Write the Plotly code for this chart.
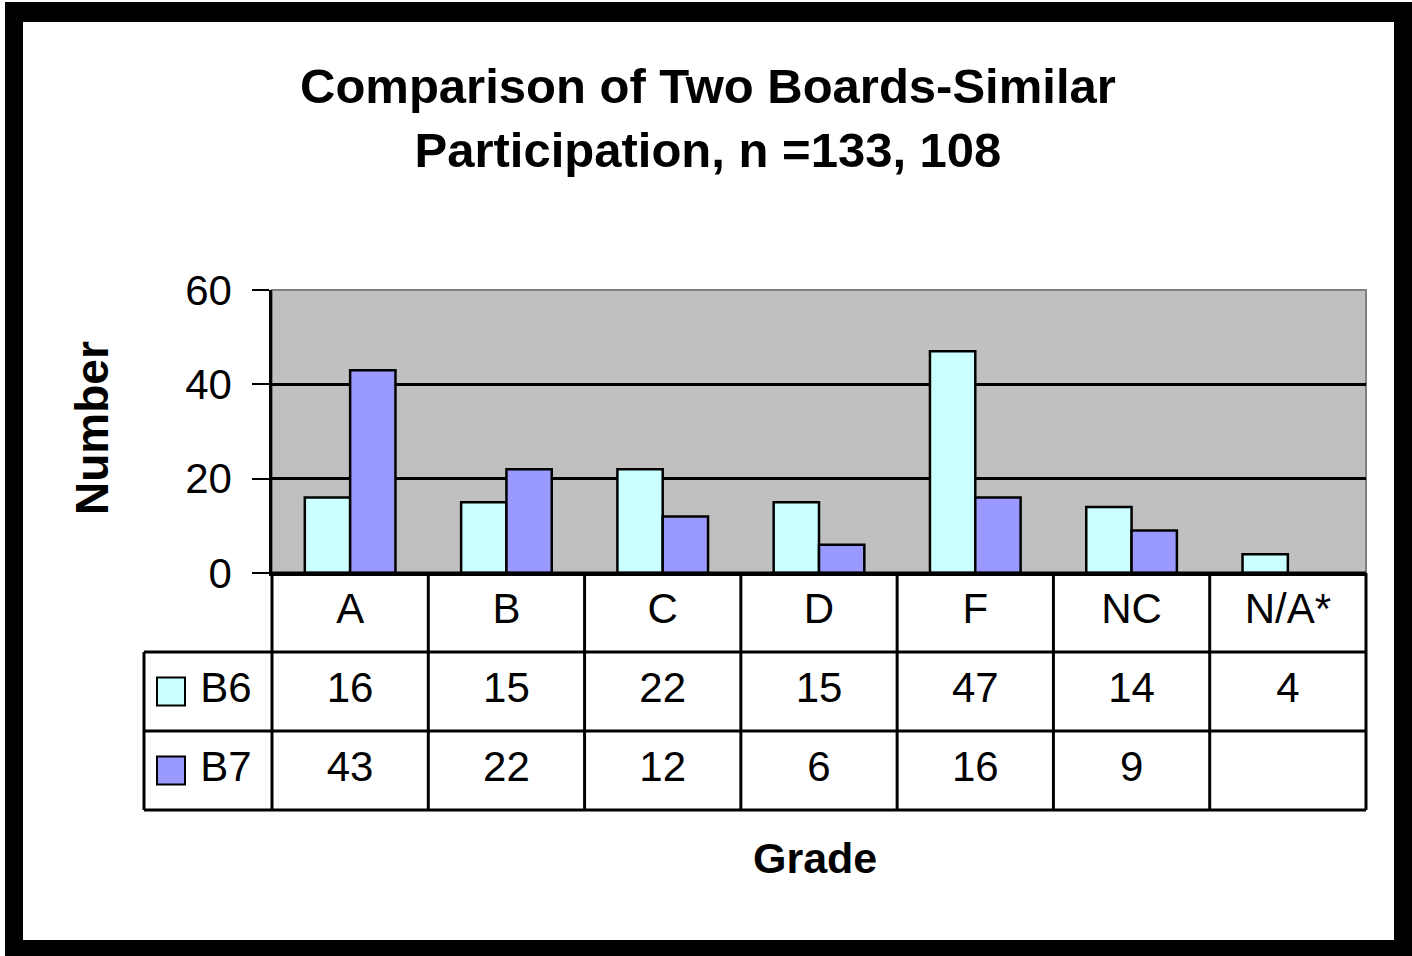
import plotly.graph_objects as go

# ---- data ----
grades = ["A", "B", "C", "D", "F", "NC", "N/A*"]
b6 = [16, 15, 22, 15, 47, 14, 4]
b7 = [43, 22, 12, 6, 16, 9, None]
series_names = ["B6", "B7"]
series_colors = ["#CCFFFF", "#9999FF"]
y_ticks = [0, 20, 40, 60]

W, H = 1412, 956
def fx(p):
    return p / W
def fy(p):
    return 1 - p / H

# layout geometry (pixels)
PL, PR, PT, PB = 272, 1366, 290, 573    # bar plot area
TL, TB = 144, 810                       # table left / bottom
PAD = 4
ncat = len(grades)
xunit = (PR - PL) / ncat
yunit = (TB - PB) / 3.0
tab_left = -0.5 - (PL - TL) / xunit

SANS = "Liberation Sans, Arial, sans-serif"
TXT = 42

fig = go.Figure()

# bars
for name, vals, col in zip(series_names, [b6, b7], series_colors):
    fig.add_trace(go.Bar(
        x=grades, y=vals, name=name, marker=dict(color=col, line=dict(color="black", width=2.5)),
        xaxis="x", yaxis="y", showlegend=False))

# table text
xi = list(range(ncat))
fig.add_trace(go.Scatter(x=xi, y=[2.5] * ncat, text=grades, mode="text",
                         textfont=dict(family=SANS, size=TXT, color="black"),
                         xaxis="x2", yaxis="y2", showlegend=False, hoverinfo="skip"))
for row_y, vals in [(1.5, b6), (0.5, b7)]:
    fig.add_trace(go.Scatter(x=xi, y=[row_y] * ncat,
                             text=["" if v is None else str(v) for v in vals], mode="text",
                             textfont=dict(family=SANS, size=TXT, color="black"),
                             xaxis="x2", yaxis="y2", showlegend=False, hoverinfo="skip"))

# legend keys in table
key_x = -0.5 - 101 / xunit
lab_x = -0.5 - 46 / xunit
fig.add_trace(go.Scatter(x=[key_x, key_x], y=[1.5, 0.5], mode="markers",
                         marker=dict(symbol="square", size=28, color=series_colors,
                                     line=dict(color="black", width=2)),
                         xaxis="x2", yaxis="y2", showlegend=False, hoverinfo="skip"))
fig.add_trace(go.Scatter(x=[lab_x, lab_x], y=[1.5, 0.5], text=series_names, mode="text",
                         textfont=dict(family=SANS, size=TXT, color="black"),
                         xaxis="x2", yaxis="y2", showlegend=False, hoverinfo="skip"))

shapes = []
# outer black frame and white inner page
shapes.append(dict(type="rect", xref="paper", yref="paper", x0=fx(5), x1=fx(1412), y0=fy(956), y1=fy(2),
                   fillcolor="black", line=dict(width=0), layer="below"))
shapes.append(dict(type="rect", xref="paper", yref="paper", x0=fx(23), x1=fx(1394), y0=fy(940), y1=fy(22),
                   fillcolor="white", line=dict(width=0), layer="below"))
# grey plot area
shapes.append(dict(type="rect", xref="x domain", yref="y domain", x0=0, x1=1, y0=0, y1=1,
                   fillcolor="#C0C0C0", line=dict(color="#808080", width=2), layer="below"))
# table grid lines
for i in range(ncat + 1):
    shapes.append(dict(type="line", xref="x2", yref="y2", x0=i - 0.5, x1=i - 0.5, y0=0, y1=3,
                       line=dict(color="black", width=3)))
shapes.append(dict(type="line", xref="x2", yref="y2", x0=tab_left, x1=tab_left, y0=0, y1=2,
                   line=dict(color="black", width=3)))
for yy in [0, 1, 2]:
    shapes.append(dict(type="line", xref="x2", yref="y2", x0=tab_left, x1=ncat - 0.5, y0=yy, y1=yy,
                       line=dict(color="black", width=3)))
shapes.append(dict(type="line", xref="x2", yref="y2", x0=-0.5, x1=ncat - 0.5, y0=3, y1=3,
                   line=dict(color="black", width=3)))

annotations = [
    dict(text="<b>Comparison of Two Boards-Similar<br>Participation, n =133, 108</b>",
         xref="paper", yref="paper", x=fx(708), y=fy(118), xanchor="center", yanchor="middle",
         showarrow=False, font=dict(family=SANS, size=49, color="black")),
    dict(text="<b>Number</b>", xref="paper", yref="paper", x=fx(92), y=fy(428), textangle=-90,
         xanchor="center", yanchor="middle", showarrow=False,
         font=dict(family=SANS, size=46, color="black")),
    dict(text="<b>Grade</b>", xref="paper", yref="paper", x=fx(815), y=fy(858),
         xanchor="center", yanchor="middle", showarrow=False,
         font=dict(family=SANS, size=43, color="black")),
]

fig.update_layout(
    width=W, height=H, autosize=False,
    margin=dict(l=0, r=0, t=0, b=0, pad=0, autoexpand=False),
    paper_bgcolor="white", plot_bgcolor="rgba(0,0,0,0)",
    barmode="group", bargap=0.42, bargroupgap=0,
    shapes=shapes, annotations=annotations,
    xaxis=dict(domain=[fx(PL), fx(PR)], anchor="y", type="category", range=[-0.5, ncat - 0.5],
               showticklabels=False, ticks="", showgrid=False, zeroline=False,
               showline=True, linecolor="black", linewidth=3),
    yaxis=dict(domain=[fy(PB), fy(PT)], anchor="x", range=[0, 60], tickvals=y_ticks,
               ticks="outside", ticklen=17, tickwidth=2, tickcolor="black",
               showline=True, linecolor="black", linewidth=2.5,
               showgrid=True, gridcolor="black", gridwidth=2.5, zeroline=False,
               ticklabelstandoff=12,
               tickfont=dict(family=SANS, size=TXT, color="black")),
    xaxis2=dict(domain=[fx(TL - PAD), fx(PR + PAD)], anchor="y2",
                range=[tab_left - PAD / xunit, ncat - 0.5 + PAD / xunit],
                visible=False, showgrid=False, zeroline=False),
    yaxis2=dict(domain=[fy(TB + PAD), fy(PB - PAD)], anchor="x2",
                range=[-PAD / yunit, 3 + PAD / yunit],
                visible=False, showgrid=False, zeroline=False),
)

fig.write_html("out.html", config={"displayModeBar": False},
               post_script="document.body.style.margin='0px';")
